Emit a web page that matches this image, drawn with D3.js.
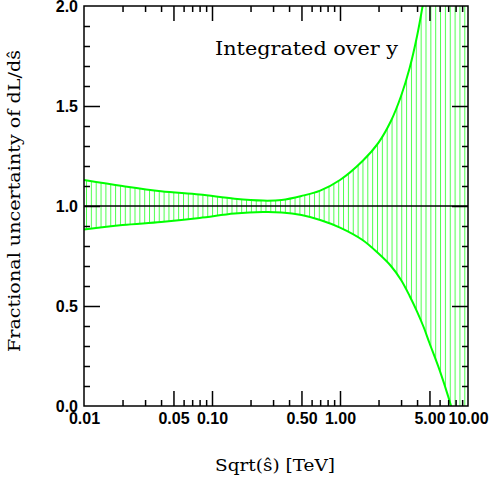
<!DOCTYPE html>
<html>
<head>
<meta charset="utf-8">
<script src="https://cdn.jsdelivr.net/npm/d3@7"></script>
<style>
  body { margin: 0; background: #fff; }
  .lbl text { font-family: "Liberation Sans", Arial, sans-serif; font-weight: bold; font-size: 16px; fill: #000; }
  .tk line { stroke: #000; stroke-width: 1.5; }
  .ser { font-family: "DejaVu Serif", serif; font-size: 17px; fill: #000; }
</style>
</head>
<body>
<div id="chart"></div>
<script>
// sqrt(s-hat) in TeV
var sqrtS = [0.01, 0.02, 0.04, 0.08, 0.15, 0.25, 0.35, 0.5, 0.7, 1.0, 1.5, 2.0, 2.5, 3.0, 3.5, 4.0, 4.5, 5.0, 6.0, 7.0, 8.0, 10.0];
// upper and lower edges of the uncertainty band
var upper = [1.13, 1.10, 1.074, 1.057, 1.036, 1.027, 1.03, 1.05, 1.077, 1.13, 1.225, 1.317, 1.425, 1.55, 1.69, 1.85, 2.03, 2.22, 2.65, 3.15, 3.7, 5.0];
var lower = [0.883, 0.905, 0.92, 0.94, 0.962, 0.97, 0.968, 0.955, 0.93, 0.892, 0.83, 0.762, 0.70, 0.63, 0.55, 0.472, 0.395, 0.315, 0.179, 0.048, -0.08, -0.33];

var xLabels = [0.01, 0.05, 0.1, 0.5, 1, 5, 10];
var yLabels = [0.0, 0.5, 1.0, 1.5, 2.0];

var W = 491, H = 480;
var mLeft = 84, mTop = 6, width = 384, height = 400;

var svg = d3.select("#chart").append("svg").attr("width", W).attr("height", H);

var x = d3.scaleLog().domain([0.01, 10]).range([0, width]);
var y = d3.scaleLinear().domain([0, 2]).range([height, 0]);

var g = svg.append("g").attr("transform", "translate(" + mLeft + "," + mTop + ")");

// hatching: thin vertical lines, evenly spaced in log x
var defs = svg.append("defs");
var pat = defs.append("pattern")
	.attr("id", "hatch")
	.attr("patternUnits", "userSpaceOnUse")
	.attr("x", 2).attr("y", 0)
	.attr("width", 4.85).attr("height", 20);
pat.append("line")
	.attr("x1", 0.5).attr("x2", 0.5).attr("y1", 0).attr("y2", 20)
	.attr("stroke", "#00ff00").attr("stroke-opacity", 0.7).attr("stroke-width", 1);

defs.append("clipPath").attr("id", "clip")
	.append("rect").attr("width", width).attr("height", height);

var band = sqrtS.map(function(d, i) { return {x: d, hi: upper[i], lo: lower[i]}; });

var curve = d3.curveCatmullRom.alpha(0.5);

var area = d3.area()
	.x(function(d) { return x(d.x); })
	.y0(function(d) { return y(d.lo); })
	.y1(function(d) { return y(d.hi); })
	.curve(curve);

var plot = g.append("g").attr("clip-path", "url(#clip)");

plot.append("path").datum(band)
	.attr("d", area)
	.attr("fill", "url(#hatch)");

var lineHi = d3.line().x(function(d) { return x(d.x); }).y(function(d) { return y(d.hi); }).curve(curve);
var lineLo = d3.line().x(function(d) { return x(d.x); }).y(function(d) { return y(d.lo); }).curve(curve);

plot.append("path").datum(band).attr("d", lineHi)
	.attr("fill", "none").attr("stroke", "#00ff00").attr("stroke-width", 2);
plot.append("path").datum(band).attr("d", lineLo)
	.attr("fill", "none").attr("stroke", "#00ff00").attr("stroke-width", 2);

// reference line at 1
g.append("line")
	.attr("x1", 0).attr("x2", width)
	.attr("y1", y(1)).attr("y2", y(1))
	.attr("stroke", "#000").attr("stroke-width", 1.5);

// ticks, all pointing inward
var allX = x.ticks().filter(function(d) { return d > 0.0100001 && d < 9.9999; });
function isMajor(d) {
	var m = d / Math.pow(10, Math.floor(Math.log10(d) + 1e-9));
	return Math.abs(m - 1) < 1e-6 || Math.abs(m - 5) < 1e-6;
}
var xMajor = allX.filter(isMajor);
var xMinor = allX.filter(function(d) { return !isMajor(d); });

var yAll = d3.range(1, 20).map(function(i) { return i / 10; });
var yMajor = yAll.filter(function(d) { return Math.abs(d * 2 - Math.round(d * 2)) < 1e-6; });
var yMinor = yAll.filter(function(d) { return Math.abs(d * 2 - Math.round(d * 2)) >= 1e-6; });

function tickAxis(axis, vals, size, tr) {
	var a = g.append("g").attr("class", "tk").attr("transform", tr || null)
		.call(axis.tickValues(vals).tickSize(-size).tickFormat(""));
	a.select(".domain").remove();
}
tickAxis(d3.axisBottom(x), xMajor, 15, "translate(0," + height + ")");
tickAxis(d3.axisBottom(x), xMinor, 6, "translate(0," + height + ")");
tickAxis(d3.axisTop(x), xMajor, 15);
tickAxis(d3.axisTop(x), xMinor, 6);
tickAxis(d3.axisLeft(y), yMajor, 16);
tickAxis(d3.axisLeft(y), yMinor, 6);
tickAxis(d3.axisRight(y), yMajor, 16, "translate(" + width + ",0)");
tickAxis(d3.axisRight(y), yMinor, 6, "translate(" + width + ",0)");

// frame
g.append("rect")
	.attr("width", width).attr("height", height)
	.attr("fill", "none").attr("stroke", "#000").attr("stroke-width", 1.5);

// tick labels
var xl = g.append("g").attr("class", "lbl").attr("transform", "translate(0," + height + ")")
	.call(d3.axisBottom(x).tickValues(xLabels).tickSize(0).tickPadding(7).tickFormat(d3.format(".2f")));
xl.select(".domain").remove();

var yl = g.append("g").attr("class", "lbl")
	.call(d3.axisLeft(y).tickValues(yLabels).tickSize(0).tickPadding(6).tickFormat(d3.format(".1f")));
yl.select(".domain").remove();

// titles
svg.append("text").attr("class", "ser")
	.attr("x", 275).attr("y", 471)
	.attr("text-anchor", "middle")
	.attr("textLength", 120).attr("lengthAdjust", "spacingAndGlyphs")
	.text("Sqrt(ŝ) [TeV]");

svg.append("text").attr("class", "ser")
	.attr("transform", "translate(20,201) rotate(-90)")
	.attr("text-anchor", "middle")
	.attr("textLength", 302).attr("lengthAdjust", "spacingAndGlyphs")
	.text("Fractional uncertainty of dL/dŝ");

svg.append("text").attr("class", "ser")
	.attr("x", 215).attr("y", 55)
	.style("font-size", "18px")
	.attr("textLength", 183).attr("lengthAdjust", "spacingAndGlyphs")
	.text("Integrated over y");
</script>
</body>
</html>
